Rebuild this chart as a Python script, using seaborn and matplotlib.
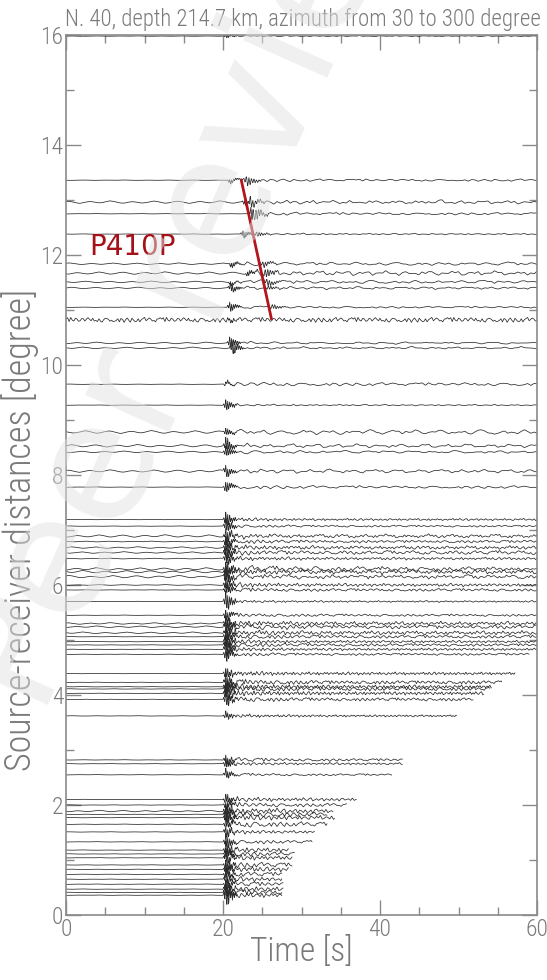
import numpy as np
import pandas as pd
import matplotlib
matplotlib.use("Agg")
import matplotlib.pyplot as plt
import seaborn as sns
from matplotlib.ticker import MultipleLocator
from matplotlib import font_manager as fm

# ---------------- data ----------------
# epicentral distance of every trace (degree)
dist = [15.98, 13.36, 12.96, 12.75, 12.38, 11.84, 11.67, 11.51, 11.40, 11.05, 10.82, 10.40, 10.31,
        9.65, 9.27, 8.78, 8.53, 8.42, 8.07, 7.78,
        7.19, 7.07, 6.89, 6.79, 6.68, 6.59, 6.48, 6.29, 6.24, 6.15, 6.00, 5.91, 5.70,
        5.45, 5.30, 5.24, 5.13, 5.06, 4.97, 4.91, 4.83, 4.74,
        4.39, 4.23, 4.15, 4.11, 4.03, 3.92, 3.62,
        2.82, 2.75, 2.55,
        2.10, 2.00, 1.89, 1.83, 1.77, 1.65, 1.51, 1.33, 1.18, 1.11, 1.04, 0.91, 0.83,
        0.74, 0.65, 0.56, 0.47, 0.41, 0.36]
# time at which each trace ends (s)
t_end = [60] * 13 + [60] * 7 + [60] * 13 + [60] * 8 + [59.0] + \
        [57.2, 55.5, 54.2, 54.0, 53.2, 51.9, 49.8] + \
        [42.9, 42.9, 41.5] + \
        [37.0, 35.8, 34.0, 33.3, 34.2, 33.3, 31.7, 31.4, 28.4, 29.1, 28.8, 28.8, 28.4,
         27.5, 27.5, 27.7, 27.7, 27.5, 27.5]
# first-arrival time (s)
t_first = [20.0, 20.5, 22.4, 23.2, 22.2, 20.7, 22.8, 20.6, 20.6, 20.5, 20.5, 20.5, 20.8] + [20.0] * 58
# first-arrival amplitude (degree)
arr_amp = [0.04, 0.05, 0.06, 0.08, 0.08, 0.06, 0.06, 0.04, 0.10, 0.10, 0.04, 0.12, 0.15,
           0.04, 0.12, 0.08, 0.15, 0.12, 0.12, 0.12,
           0.15, 0.15, 0.15, 0.12, 0.15, 0.15, 0.15, 0.15, 0.15, 0.15, 0.15, 0.12, 0.20,
           0.12, 0.15, 0.15, 0.15, 0.15, 0.15, 0.12, 0.15, 0.15,
           0.12, 0.15, 0.15, 0.15, 0.15, 0.15, 0.08,
           0.10, 0.10, 0.10,
           0.10, 0.10, 0.15, 0.15, 0.15, 0.12, 0.12, 0.15, 0.15, 0.12, 0.12, 0.15, 0.12,
           0.12, 0.12, 0.12, 0.15, 0.15, 0.25]
# coda amplitude (degree)
coda_amp = [0.02, 0.05, 0.06, 0.05, 0.03, 0.05, 0.07, 0.05, 0.04, 0.04, 0.05, 0.03, 0.03,
            0.07, 0.03, 0.06, 0.05, 0.04, 0.05, 0.06,
            0.05, 0.04, 0.06, 0.06, 0.07, 0.07, 0.06, 0.08, 0.08, 0.07, 0.07, 0.06, 0.04,
            0.05, 0.08, 0.08, 0.08, 0.07, 0.06, 0.06, 0.06, 0.05,
            0.07, 0.08, 0.08, 0.08, 0.08, 0.07, 0.05,
            0.06, 0.05, 0.04,
            0.07, 0.07, 0.09, 0.09, 0.09, 0.09, 0.06, 0.06, 0.08, 0.07, 0.08, 0.08, 0.08,
            0.07, 0.07, 0.07, 0.08, 0.08, 0.08]
# long-period noise amplitude (degree)
noise_amp = [0.005, 0.005, 0.03, 0.005, 0.005, 0.02, 0.03, 0.02, 0.02, 0.005, 0.0, 0.02, 0.02,
             0.005, 0.005, 0.035, 0.03, 0.02, 0.03, 0.005,
             0.005, 0.005, 0.03, 0.01, 0.02, 0.02, 0.01, 0.03, 0.03, 0.03, 0.01, 0.005, 0.005,
             0.005, 0.02, 0.02, 0.02, 0.005, 0.005, 0.005, 0.005, 0.005,
             0.005, 0.005, 0.005, 0.005, 0.005, 0.005, 0.005,
             0.005, 0.005, 0.005,
             0.005, 0.005, 0.02, 0.005, 0.005, 0.005, 0.005, 0.005, 0.005, 0.005, 0.005,
             0.005, 0.005, 0.005, 0.005, 0.005, 0.005, 0.005, 0.005]
# P410P arrival on the upper traces: (trace distance, time, amplitude)
p410_trace = [13.36, 12.96, 12.75, 12.38, 11.84, 11.67, 11.51, 11.40, 11.05]
p410_arr_t = [22.5, 23.0, 23.4, 23.8, 24.6, 24.9, 25.1, 25.3, 25.8]
p410_arr_a = [0.10, 0.10, 0.14, 0.05, 0.06, 0.09, 0.07, 0.04, 0.05]
noisy_trace = [10.82]          # trace with noise over the whole record
# red picked P410P line
p410_line_t = [22.3, 26.2]
p410_line_d = [13.38, 10.82]

# hand-drawn waveform shapes (unitless)
WAVELET = [0.0, 0.3, -0.4, 1.0, -0.9, 0.6, -0.8, 0.5, -0.4, 0.45, -0.3, 0.25, -0.3, 0.2, -0.15, 0.1, 0.0]
CODA = [0.3, -0.5, 0.8, -0.2, -0.6, 0.4, 0.9, -0.7, -0.1, 0.5, -0.4, 0.2, 0.6, -0.9, 0.3, 0.1,
        -0.5, 0.7, -0.3, -0.2, 0.5, -0.8, 0.4, 0.6, -0.4, -0.1, 0.3, -0.6, 0.8, -0.5, 0.2, 0.4,
        -0.3, -0.7, 0.6, 0.1, -0.4, 0.5, -0.2, 0.9, -0.6, -0.3, 0.4, 0.2, -0.5, 0.7, -0.8, 0.3,
        0.1, -0.4, 0.6, -0.2, 0.5, -0.7, 0.2, 0.3, -0.5, 0.4, -0.1, 0.8, -0.6]
NOISE = [0.0, 0.4, 0.7, 0.5, 0.1, -0.3, -0.6, -0.5, -0.2, 0.2, 0.5, 0.6, 0.3, -0.1, -0.5, -0.7,
         -0.4, 0.0, 0.3, 0.4, 0.2, -0.2, -0.4, -0.3, 0.1, 0.5, 0.8, 0.6, 0.2, -0.2, -0.5, -0.6,
         -0.3, 0.1, 0.3, 0.2, -0.1, -0.4, -0.5, -0.2]

# ---------------- build traces ----------------
t = np.arange(0, 60.0001, 0.05)
W = np.array(WAVELET)
C = np.array(CODA)
N = np.array(NOISE)
rows = []
for k, d in enumerate(dist):
    t0 = t_first[k]
    if d > 7.5:
        cdt = 0.42
    elif d > 4.6:
        cdt = 0.22
    elif d > 3.0:
        cdt = 0.18
    else:
        cdt = 0.24
    tc = np.arange(0, 61, cdt)
    cv = C[(np.arange(len(tc)) * (1 + k % 2) + 7 * k) % len(C)]
    coda = np.interp(t, tc, cv)
    tn = np.arange(0, 61, 0.35)
    nv = N[(np.arange(len(tn)) + 5 * k) % len(N)]
    noise = np.interp(t, tn, nv)
    if d in noisy_trace:
        env = np.ones_like(t)
        th = np.arange(0, 61, 0.2)
        coda = np.interp(t, th, C[(np.arange(len(th)) * 2) % len(C)])
    else:
        env = np.where(t >= t0, 0.45 + 0.55 * np.exp(-(t - t0) / 5.0), 0.0)
        env *= np.clip((t - t0) / 0.3, 0, 1)
    sig = noise_amp[k] * noise + coda_amp[k] * coda * env
    sig += arr_amp[k] * np.interp(t, t0 + np.arange(len(W)) * 0.12, W, left=0, right=0)
    if d in p410_trace:
        j = p410_trace.index(d)
        sig += p410_arr_a[j] * np.interp(t, p410_arr_t[j] + np.arange(len(W)) * 0.16, W, left=0, right=0)
    m = t <= t_end[k]
    rows.append(pd.DataFrame({"time": t[m], "offset": d + sig[m], "trace": k}))
df = pd.concat(rows, ignore_index=True)

# ---------------- fonts ----------------
names = {f.name for f in fm.fontManager.ttflist}
narrow = None
for cand in ["Roboto Condensed", "Open Sans Condensed", "Liberation Sans Narrow", "Roboto"]:
    if cand in names:
        narrow = cand
        break
if narrow is None:
    narrow = "DejaVu Sans"
scale = 1.0 if narrow in ("Roboto Condensed", "Open Sans Condensed", "Liberation Sans Narrow") else (0.9 if narrow == "Roboto" else 0.82)

# ---------------- plot ----------------
sns.set_theme(style="white")
plt.rcParams["font.family"] = [narrow, "DejaVu Sans"]
txt = "#7a7a7a"
fig = plt.figure(figsize=(5.47, 9.8), dpi=100)
ax = fig.add_axes([66 / 547, 65 / 980, 471 / 547, 880 / 980])

sns.lineplot(data=df, x="time", y="offset", units="trace", estimator=None, sort=False,
             color="#2a2a2a", linewidth=0.55, ax=ax, legend=False)

ax.plot(p410_line_t, p410_line_d, color="#b3141c", lw=2.0, solid_capstyle="butt", zorder=5)
ax.text(3.0, 12.15, "P410P", color="#a5111a", fontsize=20, va="center", ha="left", zorder=6,
        family="DejaVu Sans")

ax.set_xlim(0, 60)
ax.set_ylim(0, 16)
ax.xaxis.set_major_locator(MultipleLocator(20))
ax.xaxis.set_minor_locator(MultipleLocator(5))
ax.yaxis.set_major_locator(MultipleLocator(2))
ax.yaxis.set_minor_locator(MultipleLocator(1))
ax.tick_params(which="both", direction="in", top=True, right=True, bottom=True, left=True,
               colors="#8a8a8a", labelcolor=txt, labelsize=17 * scale)
ax.tick_params(which="major", length=11, width=1.0, pad=2)
ax.tick_params(which="minor", length=5.5, width=1.0)
for lab in ax.get_xticklabels() + ax.get_yticklabels():
    lab.set_fontweight("light")
for s in ax.spines.values():
    s.set_color("#8a8a8a")
    s.set_linewidth(1.2)

ax.set_xlabel("Time [s]", fontsize=24 * scale, color=txt, fontweight="light")
ax.set_ylabel("Source-receiver distances [degree]", fontsize=26 * scale, color=txt, fontweight="light")
ax.xaxis.set_label_coords(0.5, -0.024)
ax.yaxis.set_label_coords(-0.058, 0.4375)
ax.grid(False)

fig.text(65 / 547, 1 - 8 / 980, "N. 40, depth 214.7 km, azimuth from 30 to 300 degree",
         fontsize=16.4 * scale, color=txt, ha="left", va="top", fontweight="light")

# watermark
fig.text(0 / 547, 1 - 700 / 980, "Peer review", fontsize=120, color="#e2e2e2", alpha=0.5,
         rotation=66, rotation_mode="anchor", ha="left", va="center", zorder=10,
         family="DejaVu Sans")

fig.savefig("out.png", dpi=100)
